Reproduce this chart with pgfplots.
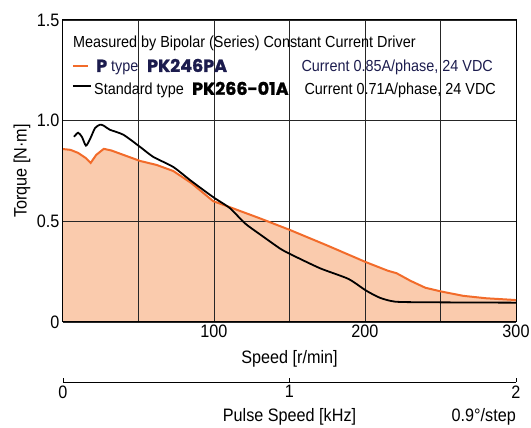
\documentclass[border=0pt]{standalone}
\usepackage{fontspec}
\setmainfont{Liberation Sans}[FakeStretch=0.9]
\newfontfamily\heavy{Poppins}[BoldFeatures={FakeBold=1.2}]
\usepackage{pgfplots}
\pgfplotsset{compat=1.18}
\definecolor{orl}{HTML}{F26B2A}
\definecolor{orf}{HTML}{FACBAD}
\definecolor{navy}{HTML}{1C1C4E}
\newcommand{\lab}{\fontsize{18}{20}\selectfont}
\newcommand{\leg}{\fontsize{16}{18}\selectfont}
\newcommand{\hv}{\fontsize{17.5}{19}\selectfont\heavy\bfseries}
\begin{document}
\begin{tikzpicture}
\pgfplotsset{set layers}
\begin{axis}[
  at={(0pt,0pt)}, anchor=origin,
  scale only axis, width=453pt, height=302pt,
  xmin=0, xmax=300, ymin=0, ymax=1.5,
  xtick={50,100,150,200,250,300}, xticklabels={,100,,200,,300},
  ytick={0,0.5,1,1.5}, yticklabels={0,0.5,1.0,1.5},
  major tick length=0pt,
  grid=major, major grid style={black!85, line width=0.8pt},
  axis line style={black, line width=1pt},
  /pgf/number format/assume math mode=true,
  tick label style={font=\lab},
  xticklabel style={yshift=1pt},
  clip=false,
]
\addplot[fill=orf, draw=none, on layer=axis background] coordinates {
(0,0.859) (5,0.855) (10,0.84) (15,0.815) (18.3,0.79) (22,0.83) (27,0.86) (32,0.852) (40,0.83) (51,0.80) (62,0.78) (73,0.75) (85,0.69) (99.5,0.60) (110.6,0.57) (130,0.516) (150,0.458) (175,0.38) (200.7,0.297) (215,0.255) (221,0.242) (230,0.205) (240,0.17) (250.8,0.151) (265,0.13) (280,0.118) (300,0.109)
} \closedcycle;
\addplot[orl, line width=2pt] coordinates {
(0,0.859) (5,0.855) (10,0.84) (15,0.815) (18.3,0.79) (22,0.83) (27,0.86) (32,0.852) (40,0.83) (51,0.80) (62,0.78) (73,0.75) (85,0.69) (99.5,0.60) (110.6,0.57) (130,0.516) (150,0.458) (175,0.38) (200.7,0.297) (215,0.255) (221,0.242) (230,0.205) (240,0.17) (250.8,0.151) (265,0.13) (280,0.118) (300,0.109)
};
\addplot[black, line width=1.8pt, smooth, tension=0.4] coordinates {
(7.3,0.92) (10,0.94) (12.5,0.92) (15.2,0.876) (18,0.91) (21.2,0.963) (24.5,0.98) (27,0.975) (31,0.955) (40,0.93) (51,0.87) (59.8,0.82) (73,0.77) (85,0.70) (99.5,0.62) (110.6,0.565) (120.5,0.49) (130.5,0.435) (143.7,0.365) (150.3,0.338) (170.2,0.267) (189,0.214) (200.7,0.156) (210,0.12) (220,0.101) (240,0.098) (300,0.096)
};
\addplot[orl, line width=1.8pt] coordinates {(6.6,1.272) (16.6,1.272)};
\addplot[black, line width=1.8pt] coordinates {(6.6,1.172) (18.5,1.172)};
\node[anchor=base west, font=\leg, inner sep=0pt] at (axis cs:6.6,1.361) {Measured by Bipolar (Series) Constant Current Driver};
\node[anchor=base west, font=\hv, text=navy, inner sep=0pt] at (axis cs:21.9,1.242) {P};
\node[anchor=base west, font=\leg, text=navy, inner sep=0pt] at (axis cs:31.8,1.242) {type};
\node[anchor=base west, font=\hv, text=navy, inner sep=0pt] at (axis cs:55.6,1.242) {PK246PA};
\node[anchor=base east, font=\leg, text=navy, inner sep=0pt] at (axis cs:284.8,1.242) {Current 0.85A/phase, 24 VDC};
\node[anchor=base west, font=\leg, inner sep=0pt] at (axis cs:20.5,1.128) {Standard type};
\node[anchor=base west, font=\hv, inner sep=0pt] at (axis cs:85.4,1.128) {PK266-01A};
\node[anchor=base east, font=\leg, inner sep=0pt] at (axis cs:286.8,1.128) {Current 0.71A/phase, 24 VDC};
\end{axis}
\begin{axis}[
  at={(0pt,-60pt)}, anchor=origin,
  scale only axis, width=453pt, height=10pt,
  xmin=0, xmax=2, ymin=0, ymax=1,
  axis x line=bottom, axis y line=none,
  x axis line style={-, black, line width=0.8pt},
  xtick={0,1,2}, tick align=inside, major tick length=4pt,
  tick style={black, line width=0.8pt},
  /pgf/number format/assume math mode=true,
  tick label style={font=\lab},
]
\addplot[draw=none] coordinates {(0,0) (2,1)};
\end{axis}
\node[anchor=base, font=\lab] at (226.5pt,-42pt) {Speed [r/min]};
\node[anchor=center, rotate=90, font=\lab] at (-41pt,151pt) {Torque [N·m]};
\node[anchor=base, font=\lab] at (226.5pt,-100pt) {Pulse Speed [kHz]};
\node[anchor=base east, font=\lab, inner sep=0pt] at (453pt,-100pt) {0.9°/step};
\pgfresetboundingbox
\useasboundingbox (-63pt,-106pt) rectangle (468pt,322pt);
\end{tikzpicture}
\end{document}
